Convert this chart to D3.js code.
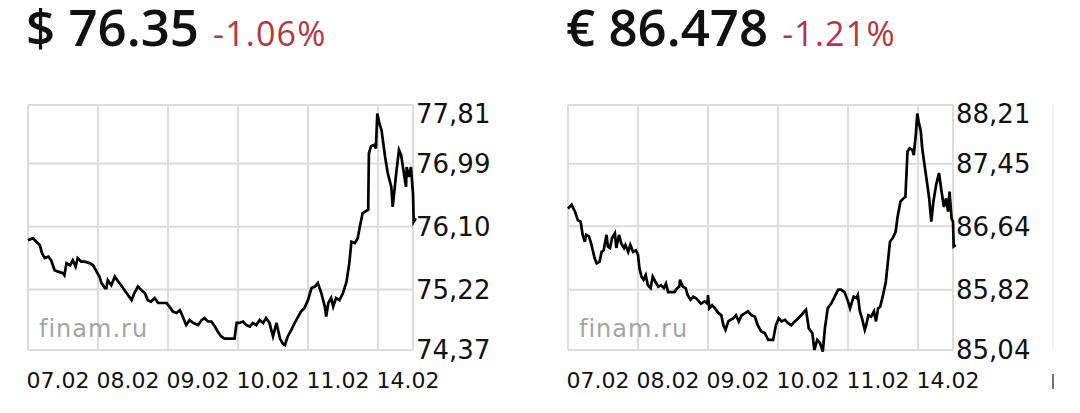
<!DOCTYPE html>
<html>
<head>
<meta charset="utf-8">
<script src="https://cdn.jsdelivr.net/npm/d3@7/dist/d3.min.js"></script>
<style>
  html, body { margin: 0; padding: 0; background: #fff; }
  svg { display: block; }
</style>
</head>
<body>
<svg id="chart" width="1080" height="413"></svg>
<script>
// подписи дней по оси X
var days = ["07.02", "08.02", "09.02", "10.02", "11.02", "14.02"];

// USD/RUB
var usdPrice = "76.35";
var usdChange = "-1.06%";
var usdTicks = [74.37, 75.22, 76.10, 76.99, 77.81];
var usdT = [0, 0.07, 0.12, 0.17, 0.2, 0.24, 0.29, 0.33, 0.38, 0.43, 0.5, 0.52, 0.55, 0.6, 0.64, 0.68, 0.71, 0.76, 0.81, 0.88, 0.93, 0.98,
  1.02, 1.05, 1.1, 1.12, 1.14, 1.19, 1.24, 1.29, 1.33, 1.38, 1.43, 1.48, 1.52, 1.57, 1.62, 1.67, 1.71, 1.76, 1.81, 1.86, 1.9, 1.98,
  2.02, 2.07, 2.12, 2.17, 2.21, 2.26, 2.31, 2.36, 2.43, 2.48, 2.52, 2.57, 2.62, 2.67, 2.71, 2.76, 2.81, 2.88, 2.95, 2.98,
  3.02, 3.07, 3.12, 3.17, 3.21, 3.26, 3.31, 3.36, 3.4, 3.45, 3.5, 3.55, 3.6, 3.64, 3.67, 3.71, 3.76, 3.81, 3.86, 3.9, 3.95,
  4.0, 4.05, 4.1, 4.14, 4.19, 4.24, 4.26, 4.29, 4.33, 4.36, 4.4, 4.45, 4.5, 4.55, 4.59, 4.62, 4.67, 4.71, 4.74, 4.78, 4.81, 4.86, 4.87, 4.9, 4.95, 4.97, 4.99,
  5.02, 5.05, 5.1, 5.14, 5.19, 5.21, 5.24, 5.26, 5.3, 5.33, 5.37, 5.4, 5.41, 5.44, 5.47, 5.5, 5.51, 5.54];
var usdV = [75.91, 75.94, 75.89, 75.84, 75.73, 75.66, 75.68, 75.63, 75.49, 75.47, 75.45, 75.42, 75.59, 75.56, 75.63, 75.54, 75.66, 75.61, 75.61, 75.59, 75.56, 75.47,
  75.40, 75.31, 75.24, 75.24, 75.35, 75.28, 75.40, 75.33, 75.28, 75.21, 75.14, 75.07, 75.17, 75.26, 75.21, 75.17, 75.07, 75.05, 75.10, 75.03, 75.03, 75.03,
  74.98, 74.91, 74.89, 74.93, 74.84, 74.72, 74.79, 74.75, 74.72, 74.79, 74.82, 74.77, 74.77, 74.70, 74.63, 74.56, 74.53, 74.53, 74.53, 74.75,
  74.75, 74.77, 74.72, 74.70, 74.75, 74.72, 74.79, 74.75, 74.82, 74.75, 74.56, 74.75, 74.53, 74.46, 74.44, 74.56, 74.65, 74.75, 74.84, 74.91, 74.96,
  75.07, 75.24, 75.26, 75.31, 75.17, 74.98, 74.84, 75.03, 75.10, 74.98, 75.10, 75.07, 75.17, 75.33, 75.59, 75.89, 75.87, 75.94, 76.10, 76.29, 76.31, 76.34, 77.13, 77.23, 77.25, 77.20, 77.69,
  77.55, 77.46, 77.09, 76.85, 76.66, 76.38, 76.66, 76.85, 77.18, 77.11, 76.85, 76.66, 76.94, 76.80, 76.94, 76.57, 76.17, 76.22];

// EUR/RUB
var eurPrice = "86.478";
var eurChange = "-1.21%";
var eurTicks = [85.04, 85.82, 86.64, 87.45, 88.21];
var eurT = [0, 0.05, 0.1, 0.14, 0.18, 0.21, 0.24, 0.26, 0.3, 0.33, 0.38, 0.41, 0.45, 0.48, 0.51, 0.55, 0.57, 0.6, 0.63, 0.67, 0.69, 0.73, 0.76, 0.8, 0.82, 0.86, 0.89, 0.93, 0.97,
  1.0, 1.02, 1.05, 1.08, 1.11, 1.14, 1.18, 1.21, 1.25, 1.29, 1.33, 1.37, 1.4, 1.43, 1.48, 1.52, 1.56, 1.59, 1.6, 1.64, 1.68, 1.71, 1.75, 1.79, 1.83, 1.87, 1.9, 1.95, 1.99,
  2.0, 2.02, 2.06, 2.1, 2.13, 2.16, 2.19, 2.22, 2.25, 2.29, 2.32, 2.36, 2.4, 2.44, 2.48, 2.52, 2.57, 2.62, 2.67, 2.71, 2.76, 2.81, 2.86, 2.93, 2.97,
  3.01, 3.05, 3.1, 3.14, 3.19, 3.24, 3.29, 3.33, 3.4, 3.44, 3.49, 3.52, 3.56, 3.6, 3.64, 3.67, 3.71, 3.76, 3.81, 3.86, 3.9, 3.95,
  4.0, 4.03, 4.08, 4.12, 4.14, 4.17, 4.2, 4.24, 4.26, 4.29, 4.33, 4.37, 4.4, 4.43, 4.46, 4.5, 4.54, 4.57, 4.6, 4.64, 4.68, 4.71, 4.75, 4.79, 4.82, 4.85, 4.88, 4.92, 4.94, 4.97, 4.99,
  5.01, 5.04, 5.06, 5.1, 5.13, 5.16, 5.19, 5.22, 5.26, 5.3, 5.33, 5.37, 5.4, 5.43, 5.45, 5.48, 5.5, 5.51, 5.54];
var eurV = [86.87, 86.92, 86.83, 86.72, 86.70, 86.53, 86.44, 86.53, 86.51, 86.42, 86.23, 86.16, 86.18, 86.31, 86.33, 86.53, 86.38, 86.36, 86.49, 86.55, 86.36, 86.53, 86.42, 86.36, 86.40, 86.31, 86.40, 86.31, 86.33,
  86.27, 86.10, 85.99, 85.95, 86.01, 85.88, 85.84, 85.99, 85.92, 85.86, 85.88, 85.84, 85.90, 85.79, 85.79, 85.79, 85.84, 85.86, 85.95, 85.86, 85.84, 85.75, 85.69, 85.73, 85.71, 85.67, 85.64, 85.67, 85.64,
  85.75, 85.58, 85.62, 85.58, 85.54, 85.51, 85.49, 85.36, 85.30, 85.41, 85.43, 85.45, 85.49, 85.41, 85.49, 85.51, 85.54, 85.49, 85.47, 85.36, 85.28, 85.26, 85.17, 85.17, 85.36,
  85.45, 85.41, 85.43, 85.39, 85.36, 85.41, 85.45, 85.49, 85.56, 85.32, 85.26, 85.04, 85.17, 85.13, 85.02, 85.32, 85.58, 85.64, 85.73, 85.82, 85.82, 85.79,
  85.67, 85.58, 85.73, 85.71, 85.75, 85.54, 85.45, 85.30, 85.36, 85.49, 85.47, 85.54, 85.41, 85.58, 85.60, 85.75, 85.92, 86.18, 86.44, 86.49, 86.57, 86.77, 86.96, 87.00, 87.02, 87.61, 87.65, 87.63, 87.56, 87.84, 88.10,
  87.99, 87.87, 87.65, 87.39, 87.20, 87.00, 86.70, 86.96, 87.18, 87.33, 87.13, 86.89, 87.00, 86.83, 87.09, 86.74, 86.70, 86.38, 86.40];

var svg = d3.select("#chart");
var fmt = d3.formatLocale({decimal: ",", thousands: " ", grouping: [3], currency: ["", ""]}).format(".2f");

function drawChart(left, price, symbol, change, ticks, ts, vs) {
  var top = 105, bottom = 350, width = 385;
  var x = d3.scaleLinear().domain([0, 5.5]).range([left, left + width]);
  var y = d3.scaleLinear().domain([ticks[0], ticks[ticks.length - 1]]).range([bottom, top]);

  // заголовок
  var head = svg.append("text").attr("x", left - 2).attr("y", 46)
    .style("font-family", "'Open Sans'");
  head.append("tspan").attr("font-size", 51).attr("font-weight", 600).attr("fill", "#111")
    .text(symbol + " " + price);
  head.append("tspan").attr("font-size", 34).attr("font-weight", 400).attr("fill", "#b5363e")
    .attr("dx", 14).attr("letter-spacing", 1.2).text(change);

  var g = svg.append("g");

  // сетка
  g.selectAll(".vgrid").data(d3.range(0, 6).concat([5.5])).enter().append("line")
    .attr("x1", function(d) { return x(d); }).attr("x2", function(d) { return x(d); })
    .attr("y1", top).attr("y2", bottom)
    .attr("stroke", "#dcdcdc").attr("stroke-width", 2);
  g.selectAll(".hgrid").data(ticks).enter().append("line")
    .attr("x1", left).attr("x2", left + width)
    .attr("y1", function(d) { return y(d); }).attr("y2", function(d) { return y(d); })
    .attr("stroke", "#dcdcdc").attr("stroke-width", 2);

  // водяной знак
  g.append("text").attr("x", left + 11).attr("y", 337)
    .style("font-family", "'DejaVu Sans'").attr("font-size", 24)
    .attr("letter-spacing", 1).attr("fill", "#a4a4a4").text("finam.ru");

  // линия курса
  var pts = ts.map(function(t, i) { return [t, vs[i]]; });
  var line = d3.line().x(function(d) { return x(d[0]); }).y(function(d) { return y(d[1]); });
  g.append("path").datum(pts).attr("d", line)
    .attr("fill", "none").attr("stroke", "#000").attr("stroke-width", 2.7)
    .attr("stroke-linejoin", "miter");

  // ось X
  var ax = g.append("g").attr("transform", "translate(-2," + 388 + ")")
    .call(d3.axisBottom(x).tickValues(d3.range(0, 6)).tickSize(0).tickPadding(0)
      .tickFormat(function(i) { return days[i]; }));
  ax.select(".domain").remove();
  ax.selectAll("text").attr("text-anchor", "start").attr("dy", 0)
    .style("font-family", "'DejaVu Sans'").attr("font-size", 22).attr("fill", "#111");

  // ось Y
  var ay = g.append("g").attr("transform", "translate(" + (left + width + 3) + ",0)")
    .call(d3.axisRight(y).tickValues(ticks).tickSize(0).tickPadding(0).tickFormat(fmt));
  ay.select(".domain").remove();
  ay.selectAll(".tick").attr("transform", function(d) { return "translate(0," + Math.max(y(d), top + 9) + ")"; });
  ay.selectAll("text").attr("dy", "0.36em")
    .style("font-family", "'DejaVu Sans'").attr("font-size", 26).attr("fill", "#111");
}

drawChart(28, usdPrice, "$", usdChange, usdTicks, usdT, usdV);
drawChart(568, eurPrice, "€", eurChange, eurTicks, eurT, eurV);

// обрезанный край соседнего графика
svg.append("line").attr("x1", 1053).attr("x2", 1053).attr("y1", 105).attr("y2", 350)
  .attr("stroke", "#f0f0f0").attr("stroke-width", 1.5);
svg.append("line").attr("x1", 1053).attr("x2", 1053).attr("y1", 374).attr("y2", 389)
  .attr("stroke", "#444").attr("stroke-width", 1.5);
</script>
</body>
</html>
